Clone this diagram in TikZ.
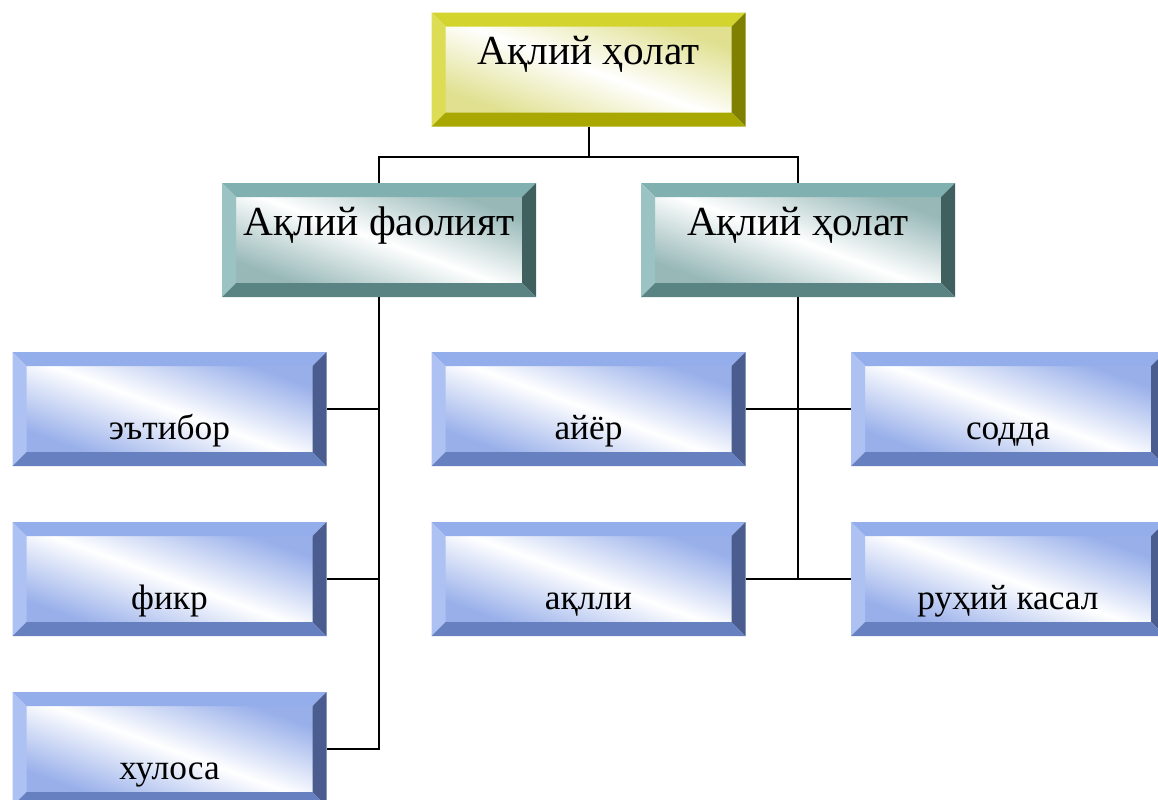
\documentclass[tikz,border=0pt]{standalone}
\usepackage{fontspec}
\setmainfont{Liberation Serif}
\usepackage{tikz}
\usetikzlibrary{positioning,calc}
\definecolor{ytop}{HTML}{D4D42E}
\definecolor{yleft}{HTML}{DCDC55}
\definecolor{yright}{HTML}{808000}
\definecolor{ybot}{HTML}{A8A800}
\definecolor{yin}{HTML}{E0E090}
\definecolor{ttop}{HTML}{80B0B0}
\definecolor{tleft}{HTML}{9CC3C3}
\definecolor{tright}{HTML}{406060}
\definecolor{tbot}{HTML}{5A8484}
\definecolor{tin}{HTML}{98B8B8}
\definecolor{btop}{HTML}{94AEEC}
\definecolor{bleft}{HTML}{ADC2F3}
\definecolor{bright}{HTML}{4B5D8E}
\definecolor{bbot}{HTML}{6680C0}
\definecolor{bin}{HTML}{98AFEA}
\tikzstyle{bevel} = [rectangle, minimum width=235.5pt, minimum height=85.5pt, inner sep=0pt]
\tikzset{bevelbox/.style n args={5}{bevel, path picture={
  \coordinate (pnw) at (path picture bounding box.north west);
  \coordinate (pne) at (path picture bounding box.north east);
  \coordinate (pse) at (path picture bounding box.south east);
  \coordinate (psw) at (path picture bounding box.south west);
  \coordinate (qnw) at ([shift={(10.5pt,-10.5pt)}]pnw);
  \coordinate (qne) at ([shift={(-10.5pt,-10.5pt)}]pne);
  \coordinate (qse) at ([shift={(-10.5pt,10.5pt)}]pse);
  \coordinate (qsw) at ([shift={(10.5pt,10.5pt)}]psw);
  \shade[shading=axis, top color=#5, bottom color=#5, middle color=white, shading angle=-20] (qnw) rectangle (qse);
  \fill[#1] (pnw) -- (pne) -- (qne) -- (qnw) -- cycle;
  \fill[#2] (pnw) -- (qnw) -- (qsw) -- (psw) -- cycle;
  \fill[#3] (pne) -- (pse) -- (qse) -- (qne) -- cycle;
  \fill[#4] (psw) -- (pse) -- (qse) -- (qsw) -- cycle;
}}}
\tikzstyle{topbox} = [bevelbox={ytop}{yleft}{yright}{ybot}{yin}, font=\fontsize{31}{37}\selectfont, text height=0pt, text depth=7pt]
\tikzstyle{midbox} = [bevelbox={ttop}{tleft}{tright}{tbot}{tin}, font=\fontsize{31}{37}\selectfont, text height=0pt, text depth=7pt]
\tikzstyle{bluebox} = [bevelbox={btop}{bleft}{bright}{bbot}{bin}, font=\fontsize{26.5}{32}\selectfont, text height=45pt, text depth=0pt]
\tikzstyle{line} = [line width=1.5pt]

\begin{document}
\begin{tikzpicture}[x=0.75pt,y=-0.75pt]
      \clip (0,0) rectangle (1158,800);
      %%%%%%%%%%%%%%%%%%%%%%%%%%%%%%%%%%%%%%%
      \node (h0) [topbox] at (588.5,69.5) {Ақлий ҳолат};
      \node (h1) [midbox] at (379,240) {Ақлий фаолият};
      \node (h2) [midbox] at (798,240) {Ақлий ҳолат};
      % left column
      \node (v1) [bluebox] at (169.5,409) {эътибор};
      \node (v2) [bluebox] at (169.5,579) {фикр};
      \node (v3) [bluebox] at (169.5,749) {хулоса};
      % middle and right columns
      \node (v4) [bluebox] at (588.5,409) {айёр};
      \node (v5) [bluebox] at (588.5,579) {ақлли};
      \node (v6) [bluebox] at (1008,409) {содда};
      \node (v7) [bluebox] at (1008,579) {руҳий касал};
      \coordinate (j0) at (588.5,157);
      \draw[line] (h0)--(j0);
      \draw[line] (h1) |- (j0) -| (h2);
      \draw[line] (h1)--(h1 |- v3)--(v3);
      \draw[line] (v1)--(v1 -| h1);
      \draw[line] (v2)--(v2 -| h1);
      \draw[line] (h2)--(h2 |- v5);
      \draw[line] (v4)--(v6);
      \draw[line] (v5)--(v7);
\end{tikzpicture}
\end{document}
